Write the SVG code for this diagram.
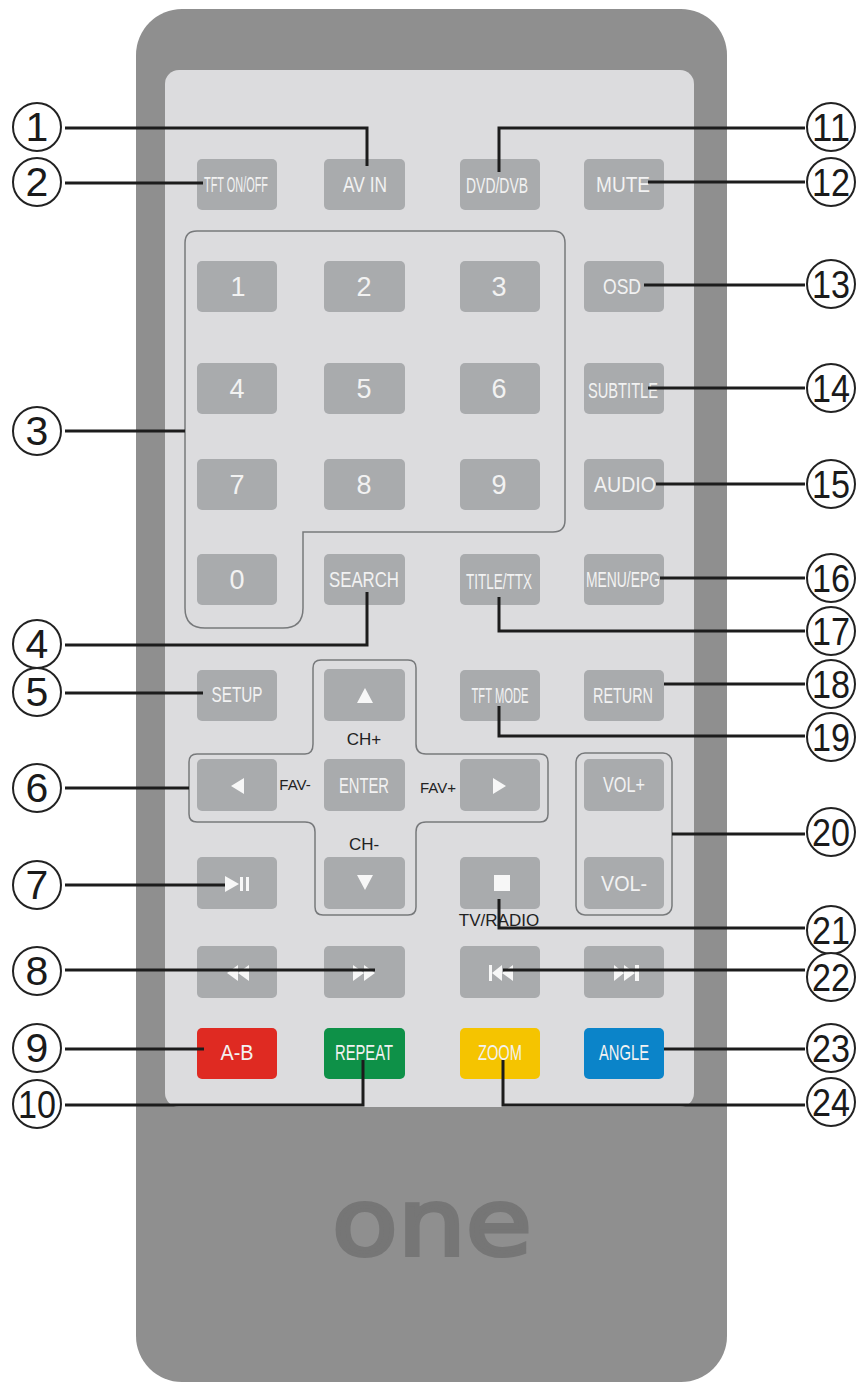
<svg xmlns="http://www.w3.org/2000/svg" width="867" height="1385" viewBox="0 0 867 1385">
<style>
text{font-family:"Liberation Sans",Arial,sans-serif}
.btn{fill:#a9abad}
.bt{fill:#f2f2f2;font-size:22px;text-anchor:middle}
.big{font-size:27px}
.ico{fill:#f7f7f7}
.outline{fill:none;stroke:#77797b;stroke-width:1.5}
.cap{fill:#222;font-size:17px;text-anchor:middle}
.fav{font-size:15px}
.c{fill:#fff;stroke:#222;stroke-width:2}
.n{fill:#1a1a1a;font-size:41px;text-anchor:middle}
.nn{fill:#1a1a1a;font-size:39px;text-anchor:middle}
#connectors path{fill:none;stroke:#1c1c1c;stroke-width:3}
</style>
<rect id="body" x="136" y="9" width="591" height="1373" rx="46" fill="#8f8f8f"/>
<rect id="panel" x="165" y="70" width="529" height="1037" rx="14" fill="#dcdcde"/>
<g id="logo"><text x="432" y="1255" font-size="92" style="font-family:'DejaVu Sans',sans-serif;stroke:#767676;stroke-width:4" fill="#767676" text-anchor="middle" textLength="200" lengthAdjust="spacingAndGlyphs">one</text></g>
<g id="outlines">
<path class="outline" d="M197 231H553Q565 231 565 243V520Q565 532 553 532H303V608Q303 628 283 628H205Q185 628 185 608V243Q185 231 197 231Z"/>
<path class="outline" d="M321 660H408Q416 660 416 668V744Q416 754 426 754H540Q548 754 548 762V814Q548 822 540 822H426Q416 822 416 832V907Q416 915 408 915H323Q315 915 315 907V832Q315 822 305 822H197Q189 822 189 814V762Q189 754 197 754H305Q313 754 313 744V668Q313 660 321 660Z"/>
<rect class="outline" x="576" y="753" width="96" height="162" rx="9"/>
</g>
<g id="btn-tft"><rect class="btn" x="197" y="159" width="80" height="51" rx="5"/><text class="bt" x="236" y="192" textLength="64" lengthAdjust="spacingAndGlyphs">TFT ON/OFF</text></g>
<g id="btn-avin"><rect class="btn" x="324" y="159" width="81" height="51" rx="5"/><text class="bt" x="365" y="192" textLength="44" lengthAdjust="spacingAndGlyphs">AV IN</text></g>
<g id="btn-dvd"><rect class="btn" x="460" y="159" width="80" height="51" rx="5"/><text class="bt" x="497" y="193" textLength="62" lengthAdjust="spacingAndGlyphs">DVD/DVB</text></g>
<g id="btn-mute"><rect class="btn" x="584" y="159" width="80" height="51" rx="5"/><text class="bt" x="623" y="192" textLength="54" lengthAdjust="spacingAndGlyphs">MUTE</text></g>
<g id="btn-1"><rect class="btn" x="197" y="261" width="80" height="51" rx="5"/><text class="bt big" x="238" y="296">1</text></g>
<g id="btn-2"><rect class="btn" x="324" y="261" width="81" height="51" rx="5"/><text class="bt big" x="364" y="296">2</text></g>
<g id="btn-3"><rect class="btn" x="460" y="261" width="80" height="51" rx="5"/><text class="bt big" x="499" y="296">3</text></g>
<g id="btn-osd"><rect class="btn" x="584" y="261" width="80" height="51" rx="5"/><text class="bt" x="622" y="294" textLength="38" lengthAdjust="spacingAndGlyphs">OSD</text></g>
<g id="btn-4"><rect class="btn" x="197" y="363" width="80" height="51" rx="5"/><text class="bt big" x="237" y="398">4</text></g>
<g id="btn-5"><rect class="btn" x="324" y="363" width="81" height="51" rx="5"/><text class="bt big" x="364" y="398">5</text></g>
<g id="btn-6"><rect class="btn" x="460" y="363" width="80" height="51" rx="5"/><text class="bt big" x="499" y="398">6</text></g>
<g id="btn-subtitle"><rect class="btn" x="584" y="363" width="80" height="51" rx="5"/><text class="bt" x="623" y="398" textLength="70" lengthAdjust="spacingAndGlyphs">SUBTITLE</text></g>
<g id="btn-7"><rect class="btn" x="197" y="459" width="80" height="51" rx="5"/><text class="bt big" x="237" y="494">7</text></g>
<g id="btn-8"><rect class="btn" x="324" y="459" width="81" height="51" rx="5"/><text class="bt big" x="364" y="494">8</text></g>
<g id="btn-9"><rect class="btn" x="460" y="459" width="80" height="51" rx="5"/><text class="bt big" x="499" y="494">9</text></g>
<g id="btn-audio"><rect class="btn" x="584" y="459" width="80" height="51" rx="5"/><text class="bt" x="625" y="492" textLength="62" lengthAdjust="spacingAndGlyphs">AUDIO</text></g>
<g id="btn-0"><rect class="btn" x="197" y="554" width="80" height="51" rx="5"/><text class="bt big" x="237" y="589">0</text></g>
<g id="btn-search"><rect class="btn" x="324" y="554" width="81" height="51" rx="5"/><text class="bt" x="364" y="587" textLength="70" lengthAdjust="spacingAndGlyphs">SEARCH</text></g>
<g id="btn-title"><rect class="btn" x="460" y="554" width="80" height="51" rx="5"/><text class="bt" x="499" y="589" textLength="66" lengthAdjust="spacingAndGlyphs">TITLE/TTX</text></g>
<g id="btn-menu"><rect class="btn" x="584" y="554" width="80" height="51" rx="5"/><text class="bt" x="623" y="587" textLength="74" lengthAdjust="spacingAndGlyphs">MENU/EPG</text></g>
<g id="btn-setup"><rect class="btn" x="197" y="670" width="80" height="51" rx="5"/><text class="bt" x="237" y="702" textLength="51" lengthAdjust="spacingAndGlyphs">SETUP</text></g>
<g id="btn-up"><rect class="btn" x="324" y="669" width="81" height="52" rx="5"/><path class="ico" d="M365 688L373 703H357Z"/></g>
<g id="btn-tftmode"><rect class="btn" x="460" y="670" width="80" height="51" rx="5"/><text class="bt" x="500" y="703" textLength="57" lengthAdjust="spacingAndGlyphs">TFT MODE</text></g>
<g id="btn-return"><rect class="btn" x="584" y="670" width="80" height="51" rx="5"/><text class="bt" x="623" y="703" textLength="60" lengthAdjust="spacingAndGlyphs">RETURN</text></g>
<g id="btn-left"><rect class="btn" x="197" y="759" width="80" height="52" rx="5"/><path class="ico" d="M231 786L244 778V794Z"/></g>
<g id="btn-enter"><rect class="btn" x="324" y="759" width="81" height="52" rx="5"/><text class="bt" x="364" y="793" textLength="50" lengthAdjust="spacingAndGlyphs">ENTER</text></g>
<g id="btn-right"><rect class="btn" x="460" y="759" width="80" height="52" rx="5"/><path class="ico" d="M506 786L493 778V794Z"/></g>
<g id="btn-volp"><rect class="btn" x="584" y="759" width="80" height="52" rx="5"/><text class="bt" x="624" y="792" textLength="42" lengthAdjust="spacingAndGlyphs">VOL+</text></g>
<g id="btn-playpause"><rect class="btn" x="197" y="857" width="80" height="52" rx="5"/><path class="ico" d="M225 876L239 884L225 892Z"/><rect class="ico" x="240" y="877" width="3" height="14"/><rect class="ico" x="246" y="877" width="3" height="14"/></g>
<g id="btn-down"><rect class="btn" x="324" y="857" width="81" height="52" rx="5"/><path class="ico" d="M357 875H373L365 890Z"/></g>
<g id="btn-stop"><rect class="btn" x="460" y="857" width="80" height="52" rx="5"/><rect class="ico" x="494" y="875" width="16" height="16"/></g>
<g id="btn-volm"><rect class="btn" x="584" y="857" width="80" height="52" rx="5"/><text class="bt" x="624" y="891" textLength="46" lengthAdjust="spacingAndGlyphs">VOL-</text></g>
<g id="btn-rew"><rect class="btn" x="197" y="946" width="80" height="52" rx="5"/><path class="ico" d="M227 973L238 965V981ZM238 973L249 965V981Z"/></g>
<g id="btn-ff"><rect class="btn" x="324" y="946" width="81" height="52" rx="5"/><path class="ico" d="M364 973L353 965V981ZM375 973L364 965V981Z"/></g>
<g id="btn-prev"><rect class="btn" x="460" y="946" width="80" height="52" rx="5"/><path class="ico" d="M489 965H492V981H489ZM492 973L502 965V981ZM502 973L513 965V981Z"/></g>
<g id="btn-next"><rect class="btn" x="584" y="946" width="80" height="52" rx="5"/><path class="ico" d="M624 973L614 965V981ZM635 973L624 965V981ZM635 965H639V981H635Z"/></g>
<g id="btn-ab"><rect x="197" y="1028" width="80" height="51" rx="5" fill="#df2a22"/><text class="bt" x="237" y="1060" textLength="33" lengthAdjust="spacingAndGlyphs">A-B</text></g>
<g id="btn-repeat"><rect x="324" y="1028" width="81" height="51" rx="5" fill="#0e9148"/><text class="bt" x="364" y="1060" textLength="58" lengthAdjust="spacingAndGlyphs">REPEAT</text></g>
<g id="btn-zoom"><rect x="460" y="1028" width="80" height="51" rx="5" fill="#f5c400"/><text class="bt" x="500" y="1060" textLength="44" lengthAdjust="spacingAndGlyphs">ZOOM</text></g>
<g id="btn-angle"><rect x="584" y="1028" width="80" height="51" rx="5" fill="#0b84c9"/><text class="bt" x="624" y="1060" textLength="50" lengthAdjust="spacingAndGlyphs">ANGLE</text></g>
<g id="captions">
<text class="cap" x="364" y="745">CH+</text>
<text class="cap" x="364" y="850">CH-</text>
<text class="cap fav" x="295" y="790">FAV-</text>
<text class="cap fav" x="438" y="793">FAV+</text>
<text class="cap" x="499" y="926">TV/RADIO</text>
</g>
<g id="connectors">
<path d="M65 128H367V166"/><path d="M65 183H203"/><path d="M65 431H185"/><path d="M65 645H367V592"/><path d="M65 693H203"/><path d="M65 788H189"/><path d="M65 885H225"/><path d="M65 970H375"/><path d="M65 1049H204"/><path d="M65 1105H363V1060"/>
<path d="M805 128H499V172"/><path d="M805 182H648"/><path d="M805 285H644"/><path d="M805 388H648"/><path d="M805 484H656"/><path d="M805 578H660"/><path d="M805 631H499V597"/><path d="M805 684H664"/><path d="M805 736H499V706"/><path d="M805 834H672"/><path d="M805 928H499V899"/><path d="M805 970H503"/><path d="M805 1049H664"/><path d="M805 1105H503V1060"/>
</g>
<g id="n1"><circle class="c" cx="37" cy="127" r="24"/><text class="n" x="37" y="141">1</text></g>
<g id="n2"><circle class="c" cx="37" cy="182" r="24"/><text class="n" x="37" y="196">2</text></g>
<g id="n3"><circle class="c" cx="37" cy="431" r="24"/><text class="n" x="37" y="445">3</text></g>
<g id="n4"><circle class="c" cx="37" cy="644" r="24"/><text class="n" x="37" y="658">4</text></g>
<g id="n5"><circle class="c" cx="37" cy="692" r="24"/><text class="n" x="37" y="706">5</text></g>
<g id="n6"><circle class="c" cx="37" cy="788" r="24"/><text class="n" x="37" y="802">6</text></g>
<g id="n7"><circle class="c" cx="37" cy="885" r="24"/><text class="n" x="37" y="899">7</text></g>
<g id="n8"><circle class="c" cx="37" cy="971" r="24"/><text class="n" x="37" y="985">8</text></g>
<g id="n9"><circle class="c" cx="37" cy="1048" r="24"/><text class="n" x="37" y="1062">9</text></g>
<g id="n10"><circle class="c" cx="37" cy="1104" r="24"/><text class="nn" x="37" y="1118" textLength="38" lengthAdjust="spacingAndGlyphs">10</text></g>
<g id="n11"><circle class="c" cx="831" cy="127" r="24"/><text class="nn" x="831" y="141" textLength="38" lengthAdjust="spacingAndGlyphs">11</text></g>
<g id="n12"><circle class="c" cx="831" cy="182" r="24"/><text class="nn" x="831" y="196" textLength="38" lengthAdjust="spacingAndGlyphs">12</text></g>
<g id="n13"><circle class="c" cx="831" cy="284" r="24"/><text class="nn" x="831" y="298" textLength="38" lengthAdjust="spacingAndGlyphs">13</text></g>
<g id="n14"><circle class="c" cx="831" cy="388" r="24"/><text class="nn" x="831" y="402" textLength="38" lengthAdjust="spacingAndGlyphs">14</text></g>
<g id="n15"><circle class="c" cx="831" cy="484" r="24"/><text class="nn" x="831" y="498" textLength="38" lengthAdjust="spacingAndGlyphs">15</text></g>
<g id="n16"><circle class="c" cx="831" cy="578" r="24"/><text class="nn" x="831" y="592" textLength="38" lengthAdjust="spacingAndGlyphs">16</text></g>
<g id="n17"><circle class="c" cx="831" cy="631" r="24"/><text class="nn" x="831" y="645" textLength="38" lengthAdjust="spacingAndGlyphs">17</text></g>
<g id="n18"><circle class="c" cx="831" cy="684" r="24"/><text class="nn" x="831" y="698" textLength="38" lengthAdjust="spacingAndGlyphs">18</text></g>
<g id="n19"><circle class="c" cx="831" cy="737" r="24"/><text class="nn" x="831" y="751" textLength="38" lengthAdjust="spacingAndGlyphs">19</text></g>
<g id="n20"><circle class="c" cx="831" cy="832" r="24"/><text class="nn" x="831" y="846" textLength="38" lengthAdjust="spacingAndGlyphs">20</text></g>
<g id="n21"><circle class="c" cx="831" cy="930" r="24"/><text class="nn" x="831" y="944" textLength="38" lengthAdjust="spacingAndGlyphs">21</text></g>
<g id="n22"><circle class="c" cx="831" cy="977" r="24"/><text class="nn" x="831" y="991" textLength="38" lengthAdjust="spacingAndGlyphs">22</text></g>
<g id="n23"><circle class="c" cx="831" cy="1048" r="24"/><text class="nn" x="831" y="1062" textLength="38" lengthAdjust="spacingAndGlyphs">23</text></g>
<g id="n24"><circle class="c" cx="831" cy="1102" r="24"/><text class="nn" x="831" y="1116" textLength="38" lengthAdjust="spacingAndGlyphs">24</text></g>
</svg>
